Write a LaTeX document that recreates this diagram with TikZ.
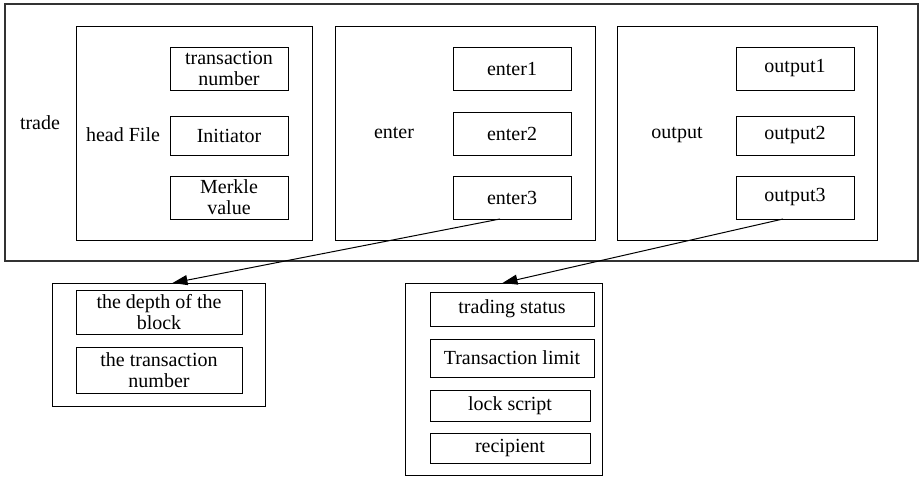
\documentclass[tikz,border=0pt]{standalone}
\usepackage{fontspec}
\setmainfont{Liberation Serif}
\usetikzlibrary{arrows.meta}
\begin{document}
\begin{tikzpicture}[x=1pt,y=-1pt,
  txt/.style={font=\fontsize{20}{21}\selectfont, align=center, inner sep=0pt, outer sep=0pt},
  box/.style={txt, draw=black, line width=1pt},
  frame/.style={draw=black!80, line width=1.4pt, inner sep=0pt, outer sep=0pt},
  group/.style={draw=black, line width=1pt, inner sep=0pt, outer sep=0pt},
  link/.style={draw=black, line width=1pt, -{Triangle[length=15pt,width=10pt]}}]
\useasboundingbox (0,0) rectangle (920,477);

% the transaction
\node[frame, minimum width=913pt, minimum height=257pt] (trade) at (461.5,132.5) {};
\node[txt] (tradelbl) at (40,123) {trade};

% header group
\node[group, minimum width=236pt, minimum height=214pt] (hf) at (194,133) {};
\node[txt] (hflbl) at (123,135) {head File};
\node[box, minimum width=118pt, minimum height=43pt] (tn) at (229,68.5) {transaction\\number};
\node[box, minimum width=118pt, minimum height=39pt] (init) at (229,135.5) {Initiator};
\node[box, minimum width=118pt, minimum height=43pt] (merk) at (229,197.5) {Merkle\\value};

% inputs group
\node[group, minimum width=260pt, minimum height=214pt] (en) at (465,133) {};
\node[txt] (enlbl) at (394,133) {enter};
\node[box, minimum width=118pt, minimum height=43pt] (e1) at (512,68.5) {enter1};
\node[box, minimum width=118pt, minimum height=43pt] (e2) at (512,133.5) {enter2};
\node[box, minimum width=118pt, minimum height=43pt] (e3) at (512,197.5) {enter3};

% outputs group
\node[group, minimum width=260pt, minimum height=214pt] (out) at (747,133) {};
\node[txt] (outlbl) at (677,135) {output};
\node[box, minimum width=118pt, minimum height=43pt] (o1) at (795,68.5) {output1};
\node[box, minimum width=118pt, minimum height=39pt] (o2) at (795,135.5) {output2};
\node[box, minimum width=118pt, minimum height=43pt] (o3) at (795,197.5) {output3};

% input detail
\node[group, minimum width=213pt, minimum height=123pt] (lowL) at (158.5,344.5) {};
\node[box, minimum width=166pt, minimum height=44pt] (depth) at (159,312) {the depth of the\\block};
\node[box, minimum width=166pt, minimum height=46pt] (tnum) at (159,370) {the transaction\\number};

% output detail
\node[group, minimum width=197pt, minimum height=192pt] (lowR) at (503.5,379) {};
\node[box, minimum width=164pt, minimum height=34pt] (ts) at (512,309) {trading status};
\node[box, minimum width=164pt, minimum height=38pt] (tl) at (512,358) {Transaction limit};
\node[box, minimum width=160pt, minimum height=31pt] (ls) at (510,405.5) {lock script};
\node[box, minimum width=160pt, minimum height=30pt] (rc) at (510,448) {recipient};

% connectors
\draw[link] ([xshift=-12pt]e3.south) -- ([xshift=14pt]lowL.north);
\draw[link] ([xshift=-12pt]o3.south) -- ([xshift=-1pt]lowR.north);
\end{tikzpicture}
\end{document}
